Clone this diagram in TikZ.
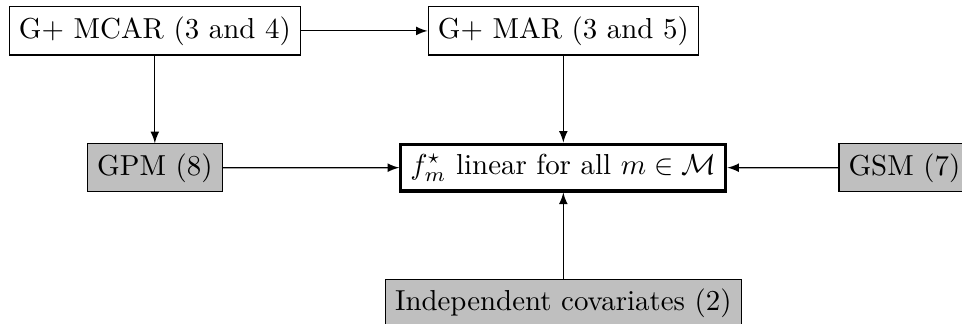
\documentclass[tikz,border=0pt]{standalone}
\usepackage{amsmath,amssymb}
\begin{document}
\begin{tikzpicture}[x=1pt,y=1pt,
  box/.style={draw, rectangle, inner sep=3.33pt},
  gbox/.style={box, fill=black!25},
  mainbox/.style={draw, rectangle, line width=1.1pt, inner sep=3.33pt},
  arr/.style={-latex, line width=0.4pt}]
\useasboundingbox (0,0) rectangle (333,-112.1);
\node[box] (mcar) at (53.6,-10.7) {G+ MCAR (3 and 4)};
\node[box] (mar) at (195,-10.7) {G+ MAR (3 and 5)};
\node[gbox] (gpm) at (53.6,-58.1) {GPM (8)};
\node[mainbox] (f) at (195,-58) {$f_m^\star$ linear for all $m \in \mathcal{M}$};
\node[gbox, anchor=west] (gsm) at (290.2,-58.1) {GSM (7)};
\node[gbox, anchor=north] (ind) at (195,-96.5) {Independent covariates (2)};
\draw[arr] (mcar) -- (mar);
\draw[arr] (mcar) -- (gpm);
\draw[arr] (mar) -- (f);
\draw[arr] (gpm) -- (f);
\draw[arr] (gsm) -- (f);
\draw[arr] (ind) -- (f);
\end{tikzpicture}
\end{document}
